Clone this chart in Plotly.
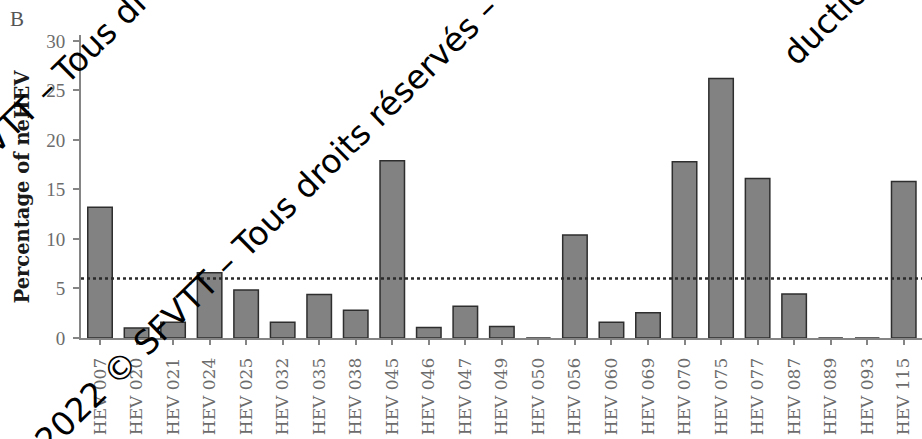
import plotly.graph_objects as go

# Percentage of neHEV per strain
strains = ["HEV 007", "HEV 020", "HEV 021", "HEV 024", "HEV 025", "HEV 032",
           "HEV 035", "HEV 038", "HEV 045", "HEV 046", "HEV 047", "HEV 049",
           "HEV 050", "HEV 056", "HEV 060", "HEV 069", "HEV 070", "HEV 075",
           "HEV 077", "HEV 087", "HEV 089", "HEV 093", "HEV 115"]
percentages = [13.2, 1.0, 1.6, 6.6, 4.85, 1.6,
               4.4, 2.8, 17.9, 1.05, 3.2, 1.15,
               0.0, 10.4, 1.6, 2.55, 17.8, 26.2,
               16.1, 4.45, 0.0, 0.0, 15.8]
threshold = 6.0
y_ticks = [0, 5, 10, 15, 20, 25, 30]

axis_grey = "#858585"
label_grey = "#6c6c6c"

fig = go.Figure()
fig.add_trace(go.Bar(
    x=strains, y=percentages, width=0.67,
    marker=dict(color="#828282", line=dict(color="#2e2e2e", width=1.5)),
))

# dotted threshold line
fig.add_shape(type="line", xref="paper", yref="y", x0=0, x1=1,
              y0=threshold, y1=threshold,
              line=dict(color="#2a2a2a", width=2.5, dash="dot"))

fig.update_layout(
    width=922, height=439,
    margin=dict(l=81, r=0, t=35, b=101),
    paper_bgcolor="white", plot_bgcolor="white",
    showlegend=False,
    bargap=0.33,
    xaxis=dict(
        range=[-0.52, 22.5], showgrid=False, zeroline=False,
        showline=True, linecolor=axis_grey, linewidth=2, layer="above traces",
        ticks="outside", ticklen=5, tickwidth=1.5, tickcolor=axis_grey,
        tickangle=-90, ticklabelstandoff=6,
        tickfont=dict(family="DejaVu Serif", size=17, color=label_grey),
    ),
    yaxis=dict(
        range=[0, 30.6], tickvals=y_ticks, showgrid=False, zeroline=False,
        showline=True, linecolor=axis_grey, linewidth=2, layer="above traces",
        ticks="outside", ticklen=6, tickwidth=2, tickcolor=axis_grey,
        ticklabelstandoff=4,
        tickfont=dict(family="Liberation Serif", size=19, color=label_grey),
    ),
)

# panel letter and axis title
fig.add_annotation(text="B", xref="paper", yref="paper",
                   x=(17 - 81) / 841, y=(338 - 19) / 303,
                   xanchor="center", yanchor="middle", showarrow=False,
                   font=dict(family="Liberation Serif", size=21, color="#555555"))
fig.add_annotation(text="<b>Percentage of neHEV</b>", xref="paper", yref="paper",
                   x=(22 - 81) / 841, y=0.5, xanchor="center", yanchor="middle",
                   textangle=-90, showarrow=False,
                   font=dict(family="DejaVu Serif", size=19.5, color="#1a1a1a"))

# copyright watermark lines (centre points in pixels)
wm_font = dict(family="DejaVu Sans", size=33, color="black")
wm_text = "2022 © SFVTT – Tous droits réservés –"
for cx, cy, txt in [(266, 224, wm_text), (86, 50, wm_text),
                    (885, -37, "duction interdite")]:
    fig.add_annotation(text=txt, xref="paper", yref="paper",
                       x=(cx - 81) / 841, y=(338 - cy) / 303,
                       xanchor="center", yanchor="middle", textangle=-44.5,
                       showarrow=False, font=wm_font)

fig.write_html("out.html")
